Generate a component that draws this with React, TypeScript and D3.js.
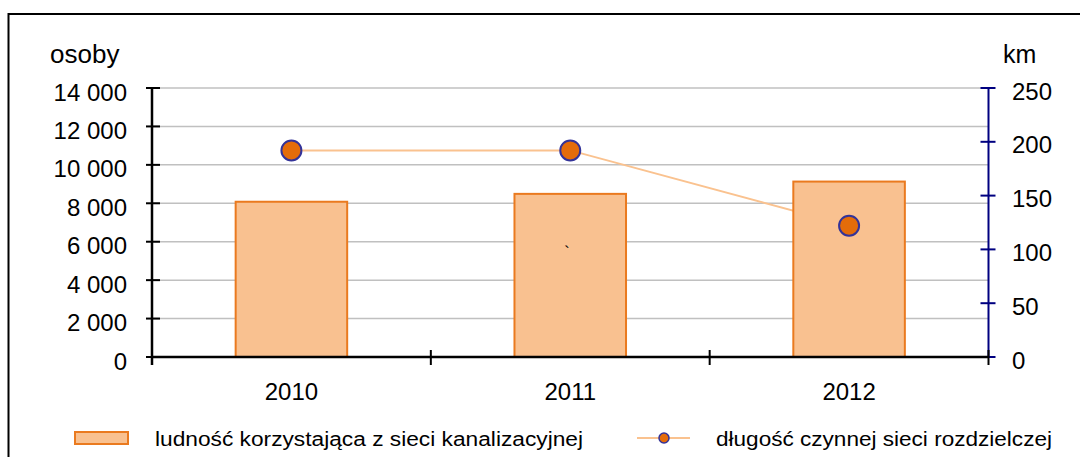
import { useEffect, useRef } from "react";
import * as d3 from "d3";

const years = ["2010", "2011", "2012"];
const population = [8080, 8490, 9130];
const networkKm = [192, 192, 122];
const leftTicks = [0, 2000, 4000, 6000, 8000, 10000, 12000, 14000];
const rightTicks = [0, 50, 100, 150, 200, 250];
const legendLabels = [
  "ludność korzystająca z sieci kanalizacyjnej",
  "długość czynnej sieci rozdzielczej",
];

const FONT = "'Liberation Sans', Arial, sans-serif";

export default function App() {
  const ref = useRef<SVGSVGElement>(null);

  useEffect(() => {
    const svg = d3.select(ref.current);
    svg.selectAll("*").remove();

    const left = 152, right = 988.5, top = 88, bottom = 357;

    const x = d3.scaleBand().domain(years).range([left, right]).padding(0);
    const yL = d3.scaleLinear().domain([0, 14000]).range([bottom, top]);
    const yR = d3.scaleLinear().domain([0, 250]).range([bottom, top]);
    const fmt = d3.formatLocale({ decimal: ",", thousands: " ", grouping: [3], currency: ["", ""] }).format(",d");
    const cx = (d: string) => (x(d) as number) + x.bandwidth() / 2;

    // frame
    svg.append("rect")
      .attr("x", 8.5).attr("y", 14).attr("width", 1100).attr("height", 500)
      .attr("fill", "white").attr("stroke", "black").attr("stroke-width", 2);

    // gridlines
    svg.append("g").selectAll("line").data(leftTicks.filter(t => t > 0)).enter()
      .append("line")
      .attr("x1", left).attr("x2", right)
      .attr("y1", d => yL(d)).attr("y2", d => yL(d))
      .attr("stroke", "#c0c0c0").attr("stroke-width", 1.5);

    // line (behind bars)
    const line = d3.line<number>()
      .x((_, i) => cx(years[i]))
      .y(d => yR(d));
    svg.append("path")
      .datum(networkKm)
      .attr("d", line)
      .attr("fill", "none")
      .attr("stroke", "#fac28f")
      .attr("stroke-width", 2);

    // bars
    const bw = x.bandwidth() * 0.4;
    svg.append("g").selectAll("rect").data(population).enter()
      .append("rect")
      .attr("x", (_, i) => cx(years[i]) - bw / 2)
      .attr("y", d => yL(d))
      .attr("width", bw)
      .attr("height", d => bottom - yL(d))
      .attr("fill", "#f9c190")
      .attr("stroke", "#ea7a1f")
      .attr("stroke-width", 2);

    // stray mark in the 2011 bar
    svg.append("text")
      .attr("x", cx("2011") - 6).attr("y", 258)
      .attr("font-family", FONT).attr("font-size", 16)
      .text("`");

    // left axis
    svg.append("line")
      .attr("x1", left).attr("x2", left).attr("y1", top).attr("y2", bottom + 8)
      .attr("stroke", "black").attr("stroke-width", 2.5);
    svg.append("g").selectAll("line").data(leftTicks).enter()
      .append("line")
      .attr("x1", left - 6).attr("x2", left + 8)
      .attr("y1", d => yL(d)).attr("y2", d => yL(d))
      .attr("stroke", "black").attr("stroke-width", 2);
    svg.append("g").selectAll("text").data(leftTicks).enter()
      .append("text")
      .attr("x", 127).attr("y", d => yL(d) + 12.5)
      .attr("text-anchor", "end")
      .attr("font-family", FONT).attr("font-size", 24)
      .text(d => fmt(d));

    // right axis
    svg.append("line")
      .attr("x1", right).attr("x2", right).attr("y1", top).attr("y2", bottom)
      .attr("stroke", "#000080").attr("stroke-width", 2);
    svg.append("g").selectAll("line").data(rightTicks).enter()
      .append("line")
      .attr("x1", right - 8).attr("x2", right + 7)
      .attr("y1", d => yR(d)).attr("y2", d => yR(d))
      .attr("stroke", "#000080").attr("stroke-width", 2);
    svg.append("g").selectAll("text").data(rightTicks).enter()
      .append("text")
      .attr("x", 1012).attr("y", d => yR(d) + 11.5)
      .attr("font-family", FONT).attr("font-size", 24)
      .text(d => d);

    // x axis
    svg.append("line")
      .attr("x1", left).attr("x2", right).attr("y1", bottom).attr("y2", bottom)
      .attr("stroke", "black").attr("stroke-width", 2.5);
    const bounds = years.map(d => x(d) as number).concat([right]);
    svg.append("g").selectAll("line").data(bounds).enter()
      .append("line")
      .attr("x1", d => d).attr("x2", d => d)
      .attr("y1", bottom - 7).attr("y2", bottom + 8)
      .attr("stroke", "black").attr("stroke-width", 2);
    svg.append("g").selectAll("text").data(years).enter()
      .append("text")
      .attr("x", d => cx(d)).attr("y", 400)
      .attr("text-anchor", "middle")
      .attr("font-family", FONT).attr("font-size", 24)
      .text(d => d);

    // markers
    svg.append("g").selectAll("circle").data(networkKm).enter()
      .append("circle")
      .attr("cx", (_, i) => cx(years[i]))
      .attr("cy", d => yR(d))
      .attr("r", 10)
      .attr("fill", "#e46c0a")
      .attr("stroke", "#333399")
      .attr("stroke-width", 2);

    // axis titles
    svg.append("text")
      .attr("x", 50).attr("y", 63)
      .attr("font-family", FONT).attr("font-size", 26)
      .text("osoby");
    svg.append("text")
      .attr("x", 1003).attr("y", 63)
      .attr("font-family", FONT).attr("font-size", 25)
      .text("km");

    // legend
    svg.append("rect")
      .attr("x", 75).attr("y", 432).attr("width", 53).attr("height", 12)
      .attr("fill", "#f9c190").attr("stroke", "#ea7a1f").attr("stroke-width", 2);
    svg.append("text")
      .attr("x", 155).attr("y", 446)
      .attr("font-family", FONT).attr("font-size", 20)
      .attr("textLength", 428).attr("lengthAdjust", "spacingAndGlyphs")
      .text(legendLabels[0]);
    svg.append("line")
      .attr("x1", 637).attr("x2", 690).attr("y1", 438).attr("y2", 438)
      .attr("stroke", "#fac28f").attr("stroke-width", 2);
    svg.append("circle")
      .attr("cx", 664).attr("cy", 438).attr("r", 5)
      .attr("fill", "#e46c0a").attr("stroke", "#333399").attr("stroke-width", 1.5);
    svg.append("text")
      .attr("x", 716).attr("y", 446)
      .attr("font-family", FONT).attr("font-size", 20)
      .attr("textLength", 336).attr("lengthAdjust", "spacingAndGlyphs")
      .text(legendLabels[1]);
  }, []);

  return (
    <svg
      ref={ref}
      width={1080}
      height={457}
      style={{ position: "absolute", left: 0, top: 0, background: "white" }}
    />
  );
}
